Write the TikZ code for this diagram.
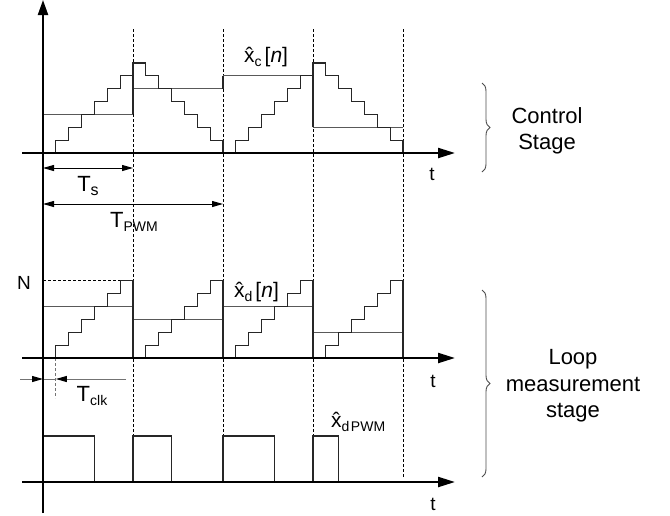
\documentclass[tikz,border=0pt]{standalone}
\usepackage{fontspec}
\setmainfont{Liberation Sans}
\usetikzlibrary{arrows.meta,decorations.pathreplacing}
\newcommand\xhatc{\accent"02C6 x}
\newcommand\lowsub[1]{\raisebox{-4pt}{\fontsize{14}{14}\selectfont #1}}
\newcommand\lowsubs[1]{\raisebox{-4pt}{\fontsize{16}{16}\selectfont #1}}
\begin{document}
\begin{tikzpicture}[x=1pt,y=-1pt,
  axis/.style={line width=2.2pt,-{Triangle[length=17pt,width=10pt]}},
  yaxis/.style={line width=2.2pt,-{Triangle[length=15pt,width=10pt]}},
  stair/.style={line width=1.25pt,draw=black!85},
  hold/.style={line width=1pt,draw=black!65},
  grid/.style={line width=0.8pt,dash pattern=on 3pt off 2pt},
  dim/.style={line width=1pt,{Triangle[length=11pt,width=6pt]}-{Triangle[length=11pt,width=6pt]}},
  clkline/.style={line width=1pt,draw=black!55},
  clktip/.style={line width=1pt,draw=black!55,-{Triangle[length=11pt,width=6pt,color=black]}},
  lbl/.style={font=\fontsize{21}{26}\selectfont,inner sep=0pt},
  tnlbl/.style={font=\fontsize{22}{26}\selectfont,inner sep=0pt},
  tlbl/.style={font=\fontsize{19}{24}\selectfont,inner sep=0pt},
  stage/.style={font=\fontsize{22}{26}\selectfont,inner sep=0pt},
  bracestyle/.style={line width=0.9pt,draw=black!70,decorate,decoration={brace,amplitude=8pt}}
]
\useasboundingbox (0,0) rectangle (670,515);

% dashed period markers
\foreach \x in {133,223,313} \draw[grid] (\x,29) -- (\x,436);
\draw[grid] (403,29) -- (403,477);

% ---------- control stage ----------
\begin{scope}[shift={(43,153)},x=12.857pt,y=12.857pt]
  \draw[hold] (0,3) -- (7,3) (7,5) -- (14,5) (14,6) -- (21,6) (21,2) -- (28,2);
  \draw[stair] (7,3) -- (7,7) (14,5) -- (14,6) (21,2) -- (21,7);
  \draw[stair] (0,0) -- (1,0) |- (2,1) |- (3,2) |- (4,3) |- (5,4) |- (6,5) |- (7,6) |- (8,7)
     |- (9,6) |- (10,5) |- (11,4) |- (12,3) |- (13,2) |- (14,1) |- (15,0)
     |- (16,1) |- (17,2) |- (18,3) |- (19,4) |- (20,5) |- (21,6) |- (22,7)
     |- (23,6) |- (24,5) |- (25,4) |- (26,3) |- (27,2) |- (28,1) -- (28,0);
\end{scope}

% ---------- loop measurement ----------
\begin{scope}[shift={(43,358)},x=12.857pt,y=12.857pt]
  \draw[grid] (0,6) -- (6,6);
  \draw[hold] (0,4) -- (7,4) (7,3) -- (14,3) (14,4) -- (21,4) (21,2) -- (28,2);
  \foreach \s in {0,7,14,21}
    \draw[stair] (\s,0) -- (\s+1,0) |- (\s+2,1) |- (\s+3,2) |- (\s+4,3) |- (\s+5,4) |- (\s+6,5) |- (\s+7,6) -- (\s+7,0);
\end{scope}

% ---------- PWM pulses ----------
\draw[stair] (43,436) -- (94.43,436) -- (94.43,482);
\draw[stair] (133,482) -- (133,436) -- (171.57,436) -- (171.57,482);
\draw[stair] (223,482) -- (223,436) -- (274.43,436) -- (274.43,482);
\draw[stair] (313,482) -- (313,436) -- (338.71,436) -- (338.71,482);

% ---------- Tclk ----------
\coordinate (ck0) at (20,379);
\coordinate (ck1) at (43,379);
\coordinate (ck2) at (55.86,379);
\coordinate (ck3) at (126,379);
\draw[clkline] (ck1) -- (ck2);
\draw[clktip] (ck0) -- (ck1);
\draw[clktip] (ck3) -- (ck2);
\draw[line width=0.8pt,draw=black!55,dash pattern=on 3pt off 2pt] (55.86,358) -- (55.86,398);

% ---------- axes ----------
\draw[yaxis] (43,513) -- (43,0);
\draw[axis] (22,153) -- (455,153);
\draw[axis] (22,358) -- (455,358);
\draw[axis] (22,482) -- (455,482);

% ---------- dimension arrows ----------
\coordinate (ts0) at (43,168);
\coordinate (ts1) at (133,168);
\coordinate (tp0) at (43,204);
\coordinate (tp1) at (223,204);
\draw[dim] (ts0) -- (ts1);
\draw[dim] (tp0) -- (tp1);

% ---------- labels ----------
\node[tnlbl,anchor=base] (tslab) at (88,191) {T\lowsubs{s}};
\node[tnlbl,anchor=base] (tpwmlab) at (134,227) {T\lowsub{PWM}};
\node[tnlbl,anchor=base] (tclklab) at (92,401) {T\lowsub{clk}};
\node[tlbl,anchor=base] (nlab) at (24,289) {N};
\node[tlbl,anchor=base] (t1) at (432,180) {t};
\node[tlbl,anchor=base] (t2) at (433,387) {t};
\node[tlbl,anchor=base] (t3) at (433,510) {t};
\node[lbl,anchor=base west] (xclab) at (244,62) {\xhatc\lowsub{c}\hspace{3pt}[\textit{n}]};
\node[lbl,anchor=base west] (xdlab) at (234,297) {\xhatc\lowsub{d}\hspace{3pt}[\textit{n}]};
\node[lbl,anchor=base west] (xdplab) at (331,427) {\xhatc\lowsub{d\hspace{1.5pt}PWM}};

\node[stage,anchor=base] (cs1) at (547,123) {Control};
\node[stage,anchor=base] (cs2) at (547,149) {Stage};
\node[stage,anchor=base] (lm1) at (573,364) {Loop};
\node[stage,anchor=base] (lm2) at (573,391) {measurement};
\node[stage,anchor=base] (lm3) at (573,417) {stage};

% ---------- braces ----------
\coordinate (b1a) at (482,83);
\coordinate (b1b) at (482,172);
\coordinate (b2a) at (482,290);
\coordinate (b2b) at (482,477);
\draw[bracestyle] (b1a) -- (b1b);
\draw[bracestyle] (b2a) -- (b2b);
\end{tikzpicture}
\end{document}
